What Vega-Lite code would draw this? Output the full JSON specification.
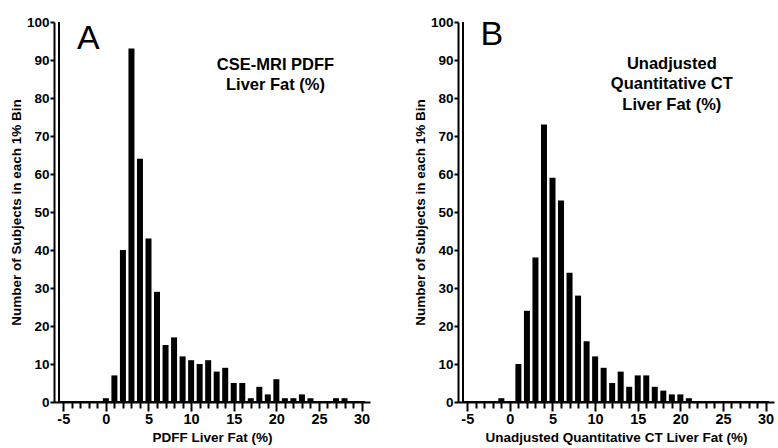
{
  "$schema": "https://vega.github.io/schema/vega-lite/v6.json",
  "padding": {"left": 8, "top": 14, "right": 2, "bottom": 0},
  "spacing": 41,
  "config": {
    "view": {"stroke": "transparent"},
    "font": "Liberation Sans"
  },
  "datasets": {
    "pdff": [
      {"pct": 0, "count": 1}, {"pct": 1, "count": 7}, {"pct": 2, "count": 40}, {"pct": 3, "count": 93},
      {"pct": 4, "count": 64}, {"pct": 5, "count": 43}, {"pct": 6, "count": 29}, {"pct": 7, "count": 15},
      {"pct": 8, "count": 17}, {"pct": 9, "count": 12}, {"pct": 10, "count": 11}, {"pct": 11, "count": 10},
      {"pct": 12, "count": 11}, {"pct": 13, "count": 8}, {"pct": 14, "count": 9}, {"pct": 15, "count": 5},
      {"pct": 16, "count": 5}, {"pct": 17, "count": 1}, {"pct": 18, "count": 4}, {"pct": 19, "count": 2},
      {"pct": 20, "count": 6}, {"pct": 21, "count": 1}, {"pct": 22, "count": 1}, {"pct": 23, "count": 2},
      {"pct": 24, "count": 1}, {"pct": 27, "count": 1}, {"pct": 28, "count": 1}
    ],
    "ct": [
      {"pct": -1, "count": 1}, {"pct": 1, "count": 10}, {"pct": 2, "count": 24}, {"pct": 3, "count": 38},
      {"pct": 4, "count": 73}, {"pct": 5, "count": 59}, {"pct": 6, "count": 53}, {"pct": 7, "count": 34},
      {"pct": 8, "count": 28}, {"pct": 9, "count": 16}, {"pct": 10, "count": 12}, {"pct": 11, "count": 9},
      {"pct": 12, "count": 5}, {"pct": 13, "count": 8}, {"pct": 14, "count": 4}, {"pct": 15, "count": 7},
      {"pct": 16, "count": 7}, {"pct": 17, "count": 4}, {"pct": 18, "count": 3}, {"pct": 19, "count": 2},
      {"pct": 20, "count": 2}, {"pct": 21, "count": 1}
    ],
    "one": [{}],
    "letterA": [{"pct": -2.05, "count": 93, "label": "A"}],
    "titleA": [{"pct": 19.9, "count": 87.3, "label": "CSE-MRI PDFF\nLiver Fat (%)"}],
    "letterB": [{"pct": -2.13, "count": 93.9, "label": "B"}],
    "titleB": [{"pct": 19.0, "count": 87.75, "label": "Unadjusted\nQuantitative CT\nLiver Fat (%)"}]
  },
  "hconcat": [
    {
      "width": 316, "height": 380,
      "resolve": {"axis": {"x": "independent", "y": "independent"}},
      "layer": [
        {
          "data": {"name": "pdff"},
          "mark": {"type": "bar", "color": "black", "size": 6},
          "encoding": {
            "x": {"field": "pct", "type": "quantitative",
              "scale": {"domain": [-5.5, 30.4], "nice": false, "zero": false},
              "axis": {"title": "PDFF Liver Fat (%)", "orient": "bottom", "grid": false, "zindex": 1,
                "domainColor": "#000000", "domainWidth": 2, "tickColor": "#000000", "tickWidth": 2,
                "labelColor": "#000000", "titleColor": "#000000", "labelFontWeight": "bold", "titleFontWeight": "bold",
                "labelFontSize": 14.5, "titleFontSize": 13.5, "labelOverlap": false,
                "values": [-5, 0, 5, 10, 15, 20, 25, 30],
                "labelExpr": "datum.value < 0 ? '-' + abs(datum.value) : '' + datum.value",
                "tickSize": 9, "labelPadding": 1, "titlePadding": 5}},
            "y": {"field": "count", "type": "quantitative",
              "scale": {"domain": [0, 100], "nice": false},
              "axis": {"title": "Number of Subjects in each 1% Bin", "orient": "left", "grid": false, "zindex": 1,
                "domainColor": "#000000", "domainWidth": 2, "tickColor": "#000000", "tickWidth": 2,
                "labelColor": "#000000", "titleColor": "#000000", "labelFontWeight": "bold", "titleFontWeight": "bold",
                "labelFontSize": 13.5, "titleFontSize": 13.5, "labelOverlap": false,
                "values": [0, 10, 20, 30, 40, 50, 60, 70, 80, 90, 100],
                "tickSize": 4, "labelPadding": 1, "titlePadding": 3}}
          }
        },
        {
          "data": {"name": "one"},
          "mark": {"type": "rule", "color": "black", "strokeWidth": 2},
          "encoding": {
            "x": {"datum": -5.5, "type": "quantitative", "axis": null},
            "y": {"datum": 0, "type": "quantitative", "axis": null},
            "y2": {"datum": 100}
          }
        },
        {
          "data": {"name": "one"},
          "mark": {"type": "rule", "color": "black", "strokeWidth": 2},
          "encoding": {
            "x": {"datum": -5.5, "type": "quantitative", "axis": null},
            "x2": {"datum": 30.4},
            "y": {"datum": 0, "type": "quantitative", "axis": null}
          }
        },
        {
          "data": {"name": "letterA"},
          "mark": {"type": "text", "fontSize": 34, "align": "center", "baseline": "alphabetic", "color": "black"},
          "encoding": {
            "x": {"field": "pct", "type": "quantitative",
              "scale": {"domain": [-5.5, 30.4], "nice": false, "zero": false},
              "axis": {"title": null, "orient": "bottom", "domain": false, "labels": false, "grid": false, "zindex": 1,
                "tickColor": "#000000", "tickWidth": 2,
                "values": [-4, -3, -2, -1, 1, 2, 3, 4, 6, 7, 8, 9, 11, 12, 13, 14, 16, 17, 18, 19, 21, 22, 23, 24, 26, 27, 28, 29],
                "tickSize": 6}},
            "y": {"field": "count", "type": "quantitative", "axis": null},
            "text": {"field": "label"}
          }
        },
        {
          "data": {"name": "titleA"},
          "mark": {"type": "text", "fontSize": 16.5, "fontWeight": "bold", "align": "center", "baseline": "alphabetic", "lineBreak": "\n", "lineHeight": 20, "color": "black"},
          "encoding": {
            "x": {"field": "pct", "type": "quantitative", "axis": null},
            "y": {"field": "count", "type": "quantitative", "axis": null},
            "text": {"field": "label"}
          }
        }
      ]
    },
    {
      "width": 316, "height": 380,
      "resolve": {"axis": {"x": "independent", "y": "independent"}},
      "layer": [
        {
          "data": {"name": "ct"},
          "mark": {"type": "bar", "color": "black", "size": 6},
          "encoding": {
            "x": {"field": "pct", "type": "quantitative",
              "scale": {"domain": [-5.5, 30.4], "nice": false, "zero": false},
              "axis": {"title": "Unadjusted Quantitative CT Liver Fat (%)", "orient": "bottom", "grid": false, "zindex": 1,
                "domainColor": "#000000", "domainWidth": 2, "tickColor": "#000000", "tickWidth": 2,
                "labelColor": "#000000", "titleColor": "#000000", "labelFontWeight": "bold", "titleFontWeight": "bold",
                "labelFontSize": 14.5, "titleFontSize": 13.5, "labelOverlap": false,
                "values": [-5, 0, 5, 10, 15, 20, 25, 30],
                "labelExpr": "datum.value < 0 ? '-' + abs(datum.value) : '' + datum.value",
                "tickSize": 9, "labelPadding": 1, "titlePadding": 5}},
            "y": {"field": "count", "type": "quantitative",
              "scale": {"domain": [0, 100], "nice": false},
              "axis": {"title": "Number of Subjects in each 1% Bin", "orient": "left", "grid": false, "zindex": 1,
                "domainColor": "#000000", "domainWidth": 2, "tickColor": "#000000", "tickWidth": 2,
                "labelColor": "#000000", "titleColor": "#000000", "labelFontWeight": "bold", "titleFontWeight": "bold",
                "labelFontSize": 13.5, "titleFontSize": 13.5, "labelOverlap": false,
                "values": [0, 10, 20, 30, 40, 50, 60, 70, 80, 90, 100],
                "tickSize": 4, "labelPadding": 1, "titlePadding": 3}}
          }
        },
        {
          "data": {"name": "one"},
          "mark": {"type": "rule", "color": "black", "strokeWidth": 2},
          "encoding": {
            "x": {"datum": -5.5, "type": "quantitative", "axis": null},
            "y": {"datum": 0, "type": "quantitative", "axis": null},
            "y2": {"datum": 100}
          }
        },
        {
          "data": {"name": "one"},
          "mark": {"type": "rule", "color": "black", "strokeWidth": 2},
          "encoding": {
            "x": {"datum": -5.5, "type": "quantitative", "axis": null},
            "x2": {"datum": 30.4},
            "y": {"datum": 0, "type": "quantitative", "axis": null}
          }
        },
        {
          "data": {"name": "letterB"},
          "mark": {"type": "text", "fontSize": 34, "align": "center", "baseline": "alphabetic", "color": "black"},
          "encoding": {
            "x": {"field": "pct", "type": "quantitative",
              "scale": {"domain": [-5.5, 30.4], "nice": false, "zero": false},
              "axis": {"title": null, "orient": "bottom", "domain": false, "labels": false, "grid": false, "zindex": 1,
                "tickColor": "#000000", "tickWidth": 2,
                "values": [-4, -3, -2, -1, 1, 2, 3, 4, 6, 7, 8, 9, 11, 12, 13, 14, 16, 17, 18, 19, 21, 22, 23, 24, 26, 27, 28, 29],
                "tickSize": 6}},
            "y": {"field": "count", "type": "quantitative", "axis": null},
            "text": {"field": "label"}
          }
        },
        {
          "data": {"name": "titleB"},
          "mark": {"type": "text", "fontSize": 16.5, "fontWeight": "bold", "align": "center", "baseline": "alphabetic", "lineBreak": "\n", "lineHeight": 20.5, "color": "black"},
          "encoding": {
            "x": {"field": "pct", "type": "quantitative", "axis": null},
            "y": {"field": "count", "type": "quantitative", "axis": null},
            "text": {"field": "label"}
          }
        }
      ]
    }
  ]
}
